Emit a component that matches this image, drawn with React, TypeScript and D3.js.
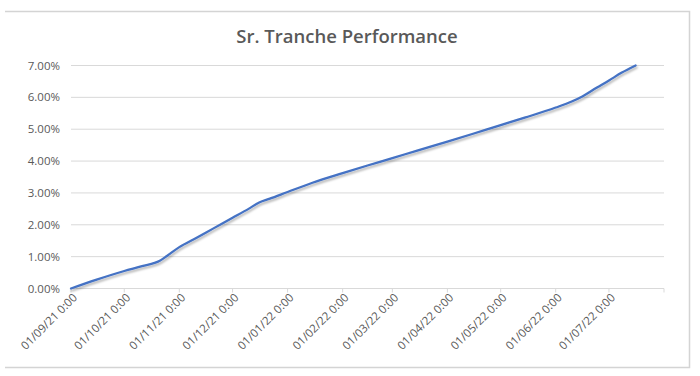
import React from "react";
import * as d3 from "d3";

const dates: string[] = [
  "2021-09-01", "2021-09-15", "2021-10-01", "2021-10-11", "2021-10-21", "2021-10-25",
  "2021-11-01", "2021-11-10", "2021-11-20", "2021-12-01", "2021-12-10", "2021-12-16",
  "2021-12-22", "2022-01-01", "2022-01-15", "2022-02-01", "2022-02-15", "2022-03-01",
  "2022-03-15", "2022-04-01", "2022-04-15", "2022-05-01", "2022-05-15", "2022-06-01",
  "2022-06-10", "2022-06-16", "2022-06-24", "2022-07-01", "2022-07-08", "2022-07-16",
];
const values: number[] = [
  0.0, 0.27, 0.55, 0.7, 0.87, 1.02,
  1.3, 1.57, 1.88, 2.22, 2.5, 2.7,
  2.82, 3.03, 3.32, 3.62, 3.86, 4.09,
  4.33, 4.61, 4.85, 5.13, 5.37, 5.68,
  5.87, 6.03, 6.3, 6.53, 6.77, 7.0,
];
const yTicks: number[] = [0, 1, 2, 3, 4, 5, 6, 7];
const title = "Sr. Tranche Performance";
const axisStart = "2021-09-01";
const axisEnd = "2022-08-01";

const W = 700;
const H = 376;
const left = 71;
const right = 664;
const top = 65.5;
const bottom = 288.5;
const textColor = "#595959";
const gridColor = "#d9d9d9";
const lineColor = "#4472c4";
const font = "'Open Sans', sans-serif";

export default function App() {
  const parse = d3.utcParse("%Y-%m-%d");
  const data = dates.map((d, i) => ({ date: parse(d) as Date, v: values[i] }));
  const x = d3.scaleUtc().domain([parse(axisStart) as Date, parse(axisEnd) as Date]).range([left, right]);
  const y = d3.scaleLinear().domain([0, 7]).range([bottom, top]);
  const monthTicks = d3.utcMonth.range(parse(axisStart) as Date, d3.utcDay.offset(parse(axisEnd) as Date, 1));
  const fmt = d3.utcFormat("%d/%m/%y 0:00");
  const line = d3
    .line<{ date: Date; v: number }>()
    .x((d) => x(d.date))
    .y((d) => y(d.v))
    .curve(d3.curveMonotoneX);

  return (
    <svg
      width={W}
      height={H}
      style={{ position: "absolute", left: 0, top: 0, background: "#fff" }}
    >
      <defs>
        <filter id="shadow" x="-10%" y="-10%" width="120%" height="130%">
          <feDropShadow dx="1" dy="2" stdDeviation="1.2" floodColor="#000" floodOpacity="0.3" />
        </filter>
      </defs>
      <path d={`M5,11.5 H689.5 V367.5 H5`} fill="none" stroke="#d4d4d4" strokeWidth={1.5} />
      <text
        x={347}
        y={43}
        textAnchor="middle"
        fill={textColor}
        style={{ fontFamily: font, fontSize: 18.5, fontWeight: 600 }}
      >
        {title}
      </text>
      {yTicks.map((t) => (
        <g key={t}>
          {t > 0 && (
            <line x1={left} x2={right} y1={y(t)} y2={y(t)} stroke={gridColor} strokeWidth={1} />
          )}
          <text
            x={60}
            y={y(t)}
            dy="0.35em"
            textAnchor="end"
            fill={textColor}
            style={{ fontFamily: font, fontSize: 11.5 }}
          >
            {t.toFixed(2) + "%"}
          </text>
        </g>
      ))}
      <line x1={left} x2={right} y1={bottom} y2={bottom} stroke={gridColor} strokeWidth={1} />
      {monthTicks.map((m, i) => (
        <g key={i}>
          <line x1={x(m)} x2={x(m)} y1={bottom} y2={bottom + 4} stroke={gridColor} strokeWidth={1} />
          {i < monthTicks.length - 1 && (
            <text
              transform={`translate(${x(m) + 4},${bottom + 7}) rotate(-45)`}
              textAnchor="end"
              dy="0.35em"
              fill={textColor}
              style={{ fontFamily: font, fontSize: 11.5 }}
            >
              {fmt(m)}
            </text>
          )}
        </g>
      ))}
      <path
        d={line(data) || ""}
        fill="none"
        stroke={lineColor}
        strokeWidth={2.25}
        strokeLinejoin="round"
        strokeLinecap="round"
        filter="url(#shadow)"
      />
    </svg>
  );
}
